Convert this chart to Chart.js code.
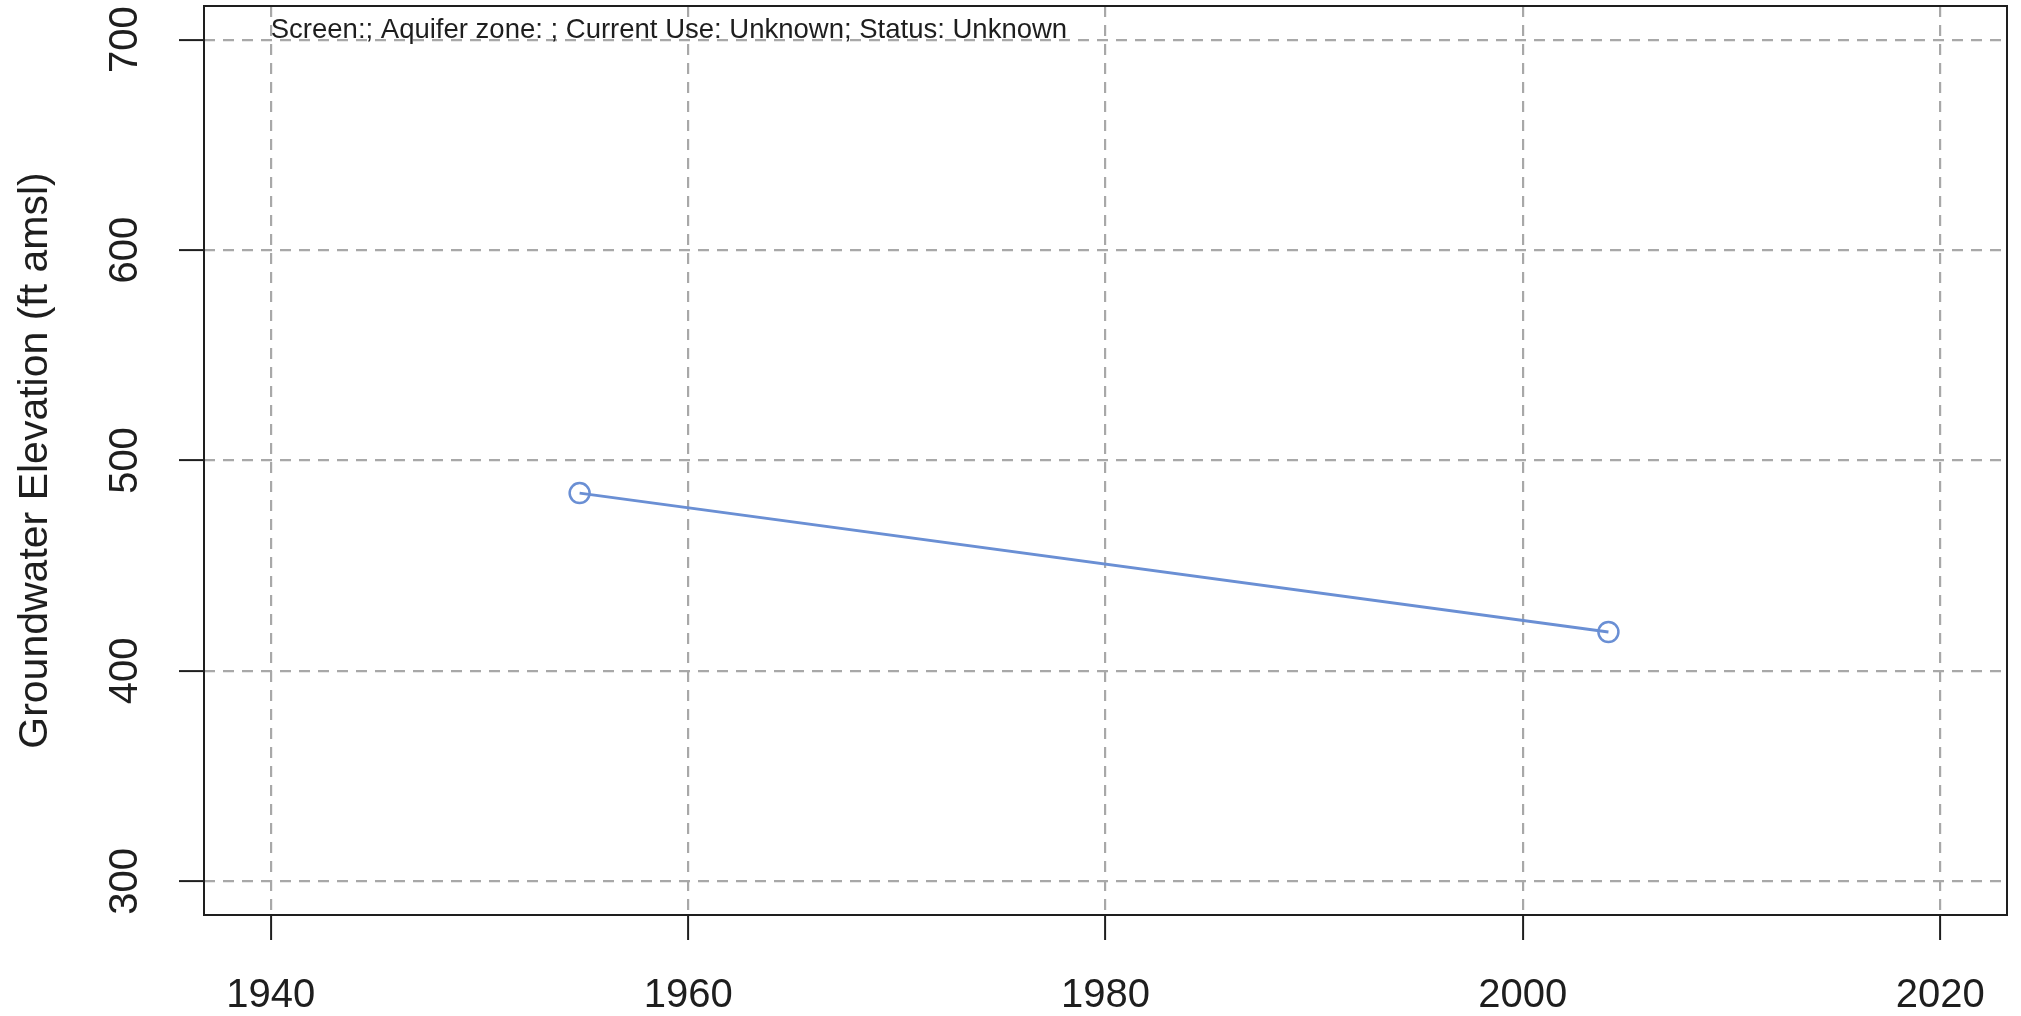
<!DOCTYPE html>
<html>
<head>
<meta charset="utf-8">
<title>Groundwater Elevation</title>
<script src="https://cdn.jsdelivr.net/npm/chart.js@4/dist/chart.umd.min.js"></script>
<style>
  html, body { margin: 0; padding: 0; background: #fff; }
  #wrap { width: 2021px; height: 1016px; }
</style>
</head>
<body>
<div id="wrap"><canvas id="gwChart" width="2021" height="1016"></canvas></div>
<script>
// measurements (decimal year, ft amsl)
const years = [1954.8, 2004.1];
const elevations = [484.5, 418.5];

// axis ticks
const xTicks = [1940, 1960, 1980, 2000, 2020];
const yTicks = [300, 400, 500, 600, 700];

const subtitle = 'Screen:; Aquifer zone: ; Current Use: Unknown; Status: Unknown';
const fontFamily = '"Liberation Sans", Arial, Helvetica, sans-serif';
const inkColor = '#1e1e1e';

// box around plot + small note at the top
const framePlugin = {
  id: 'frame',
  afterDraw(chart) {
    const { ctx, chartArea: a, scales } = chart;
    ctx.save();
    ctx.setLineDash([]);
    ctx.strokeStyle = inkColor;
    ctx.lineWidth = 2;
    ctx.strokeRect(a.left, a.top, a.right - a.left, a.bottom - a.top);
    ctx.fillStyle = inkColor;
    ctx.font = '27.5px ' + fontFamily;
    ctx.textAlign = 'left';
    ctx.textBaseline = 'alphabetic';
    ctx.fillText(subtitle, scales.x.getPixelForValue(xTicks[0]), 38);
    ctx.restore();
  }
};

const ctx = document.getElementById('gwChart').getContext('2d');
const gwChart = new Chart(ctx, {
  type: 'line',
  data: {
    datasets: [{
      label: 'Groundwater Elevation',
      data: years.map((x, i) => ({ x: x, y: elevations[i] })),
      borderColor: '#6a8fd4',
      borderWidth: 2.8,
      pointRadius: 10,
      pointBorderWidth: 2.5,
      pointBorderColor: '#6a8fd4',
      pointBackgroundColor: 'rgba(0,0,0,0)',
      tension: 0
    }]
  },
  options: {
    responsive: false,
    animation: false,
    devicePixelRatio: 1,
    layout: { autoPadding: false, padding: { top: 6, right: 14, bottom: 0, left: 0 } },
    plugins: {
      legend: { display: false },
      tooltip: { enabled: false }
    },
    scales: {
      x: {
        type: 'linear',
        position: 'bottom',
        min: 1936.8,
        max: 2023.2,
        afterBuildTicks: s => { s.ticks = xTicks.map(v => ({ value: v })); },
        afterFit: s => { s.height = 101; s.paddingLeft = 0; s.paddingRight = 0; },
        ticks: {
          callback: v => String(v),
          font: { family: fontFamily, size: 40 },
          color: inkColor,
          padding: 32,
          maxRotation: 0,
          autoSkip: false
        },
        grid: {
          color: '#a8a8a8',
          lineWidth: 2.2,
          tickLength: 25,
          tickColor: inkColor,
          tickWidth: 2,
          tickBorderDash: []
        },
        border: { display: false, dash: [11, 8] }
      },
      y: {
        type: 'linear',
        position: 'left',
        min: 284,
        max: 716,
        afterBuildTicks: s => { s.ticks = yTicks.map(v => ({ value: v })); },
        afterFit: s => { s.width = 204; s.paddingTop = 0; s.paddingBottom = 0; },
        ticks: {
          callback: v => String(v),
          font: { family: fontFamily, size: 40 },
          color: inkColor,
          padding: 20,
          minRotation: 90,
          maxRotation: 90,
          crossAlign: 'center',
          autoSkip: false
        },
        title: {
          display: true,
          text: 'Groundwater Elevation (ft amsl)',
          font: { family: fontFamily, size: 41 },
          color: inkColor,
          padding: { top: 11, bottom: 0 }
        },
        grid: {
          color: '#a8a8a8',
          lineWidth: 2.2,
          tickLength: 25,
          tickColor: inkColor,
          tickWidth: 2,
          tickBorderDash: []
        },
        border: { display: false, dash: [11, 8] }
      }
    }
  },
  plugins: [framePlugin]
});
</script>
</body>
</html>
